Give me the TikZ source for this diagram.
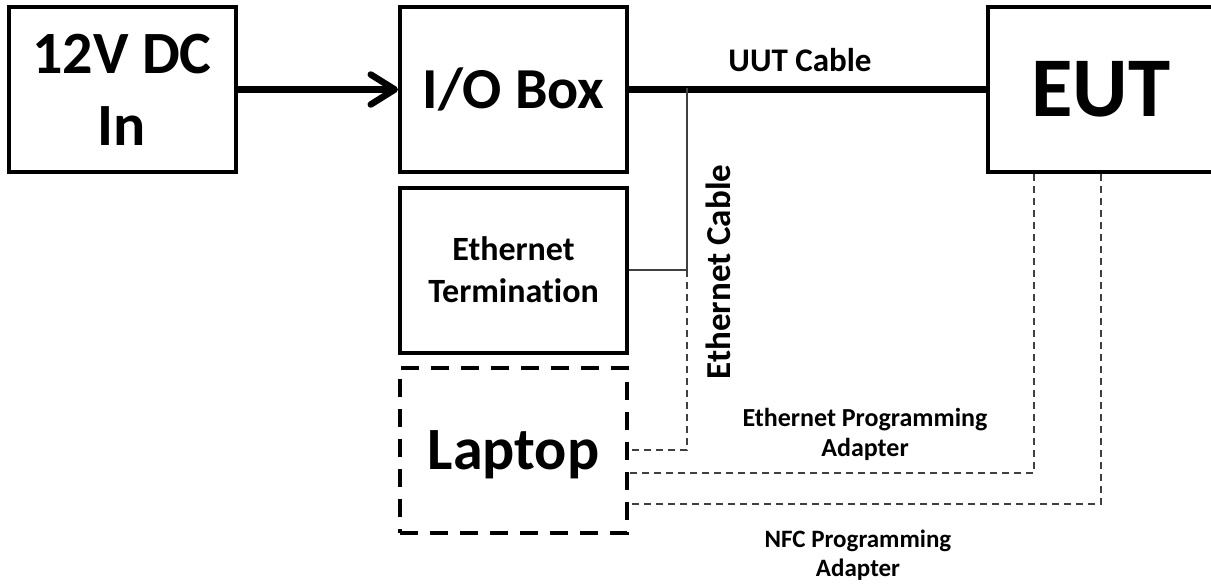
\documentclass[tikz,border=0pt]{standalone}
\usepackage{fontspec}
\setmainfont{Carlito}[Ligatures=NoCommon]
\usetikzlibrary{arrows.meta}
\definecolor{thin}{HTML}{404040}
\begin{document}
\begin{tikzpicture}[x=1pt,y=-1pt,
  box/.style={draw=black,line width=4pt,rectangle,minimum width=227pt,minimum height=165pt,inner sep=0pt,align=center,font=\bfseries\fontsize{60}{72}\selectfont},
  dbox/.style={box,dash pattern=on 18pt off 12pt},
  thinline/.style={draw=thin,line width=1.5pt},
  dline/.style={draw=thin,line width=1.5pt,dash pattern=on 7pt off 5pt},
  thickline/.style={line width=6.5pt},
  lbl/.style={align=center,inner sep=0pt}]
\useasboundingbox (0,0) rectangle (1211,586);
\node[box] (dc) at (122,89.5) {12V DC\\In};
\node[box,font=\bfseries\fontsize{58}{70}\selectfont] (io) at (513.5,89.5) {I/O Box};
\node[box,font=\bfseries\fontsize{34}{42}\selectfont] (et) at (513.5,270) {Ethernet\\Termination};
\node[dbox] (lap) at (513.5,450.5) {\raisebox{-4pt}[\height][\depth]{Laptop}};
\node[box,font=\bfseries\fontsize{85}{100}\selectfont] (eut) at (1101,89.5) {EUT};
\draw[thickline,-{Straight Barb[length=24pt,width=30pt,round]}] (dc.east) -- (io.west);
\draw[thickline] (io.east) -- (eut.west);
\coordinate (j) at (687,88);
\coordinate (jt) at (687,270);
\coordinate (jl) at (687,450);
\draw[thinline] (j) -- (jt) -- (et.east |- jt);
\draw[dline] (jt) -- (jl) -- (lap.east |- jl);
\coordinate (ea) at (1034,473);
\coordinate (na) at (1101,504);
\draw[dline] (eut.south -| ea) -- (ea) -- (lap.east |- ea);
\draw[dline] (eut.south -| na) -- (na) -- (lap.east |- na);
\node[lbl,font=\bfseries\fontsize{33}{40}\selectfont] (uut) at (800,60) {UUT Cable};
\node[lbl,font=\bfseries\fontsize{35}{42}\selectfont,rotate=90] (ec) at (718,272) {Ethernet Cable};
\node[lbl,font=\bfseries\fontsize{26}{30}\selectfont] (epa) at (865,434) {Ethernet Programming\\Adapter};
\node[lbl,font=\bfseries\fontsize{25}{29}\selectfont] (nfc) at (858,555) {NFC Programming\\Adapter};
\end{tikzpicture}
\end{document}
